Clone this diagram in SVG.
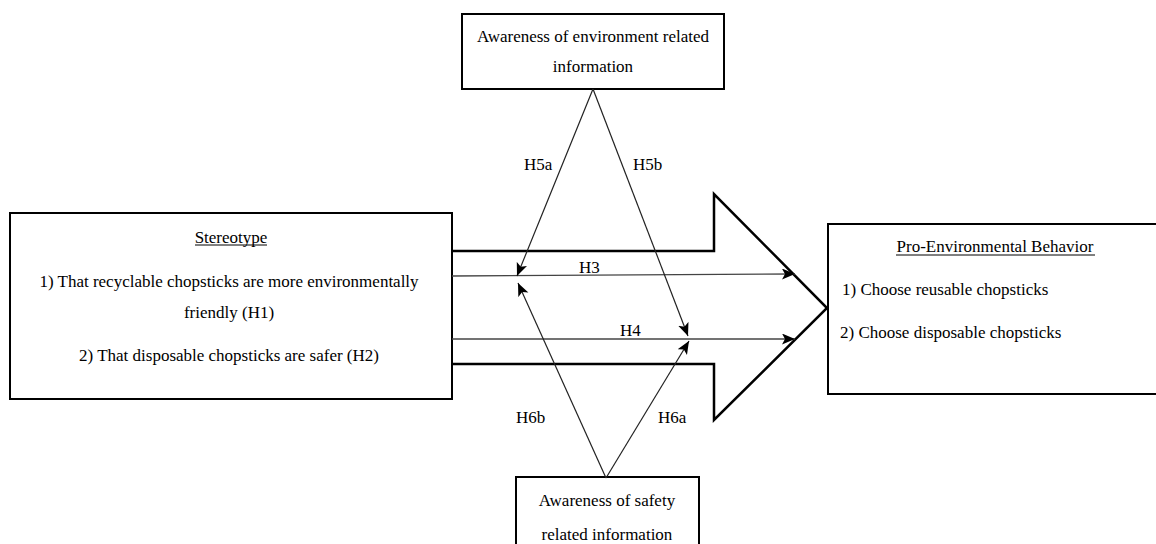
<svg xmlns="http://www.w3.org/2000/svg" width="1156" height="544" viewBox="0 0 1156 544">
<style>
.box{fill:#fff;stroke:#000;stroke-width:2}
.t{font-family:"Liberation Serif","Times New Roman",serif;font-size:17px;fill:#000}
.c{text-anchor:middle}
.big{fill:none;stroke:#000;stroke-width:2.5;stroke-linejoin:miter}
.ln{fill:none;stroke:#222;stroke-width:1.2}
.hl{fill:none;stroke:#444;stroke-width:1.3}
</style>
<defs>
<marker id="ah" markerUnits="userSpaceOnUse" markerWidth="14" markerHeight="12" refX="13" refY="5.5" orient="auto">
<path d="M0,0 L13,5.5 L0,11 L3,5.5 z" fill="#000"/>
</marker>
</defs>
<rect width="1156" height="544" fill="#fff"/>
<g id="bigarrow">
<polyline class="big" points="452,251 714,251 714,194 827,308 714,420 714,364 452,364"/>
</g>
<g id="stereotype">
<rect class="box" x="10" y="213" width="442" height="186"/>
<text class="t c" x="231" y="243">Stereotype</text>
<line x1="195" y1="245" x2="267" y2="245" stroke="#000" stroke-width="1"/>
<text class="t c" x="229" y="287">1) That recyclable chopsticks are more environmentally</text>
<text class="t c" x="229" y="318">friendly (H1)</text>
<text class="t c" x="229" y="361">2) That disposable chopsticks are safer (H2)</text>
</g>
<g id="behavior">
<rect class="box" x="828" y="224" width="340" height="170"/>
<text class="t c" x="995" y="252">Pro-Environmental Behavior</text>
<line x1="896" y1="255" x2="1095" y2="255" stroke="#000" stroke-width="1"/>
<text class="t" x="842" y="295">1) Choose reusable chopsticks</text>
<text class="t" x="840" y="338">2) Choose disposable chopsticks</text>
</g>
<g id="envinfo">
<rect class="box" x="462" y="14" width="262" height="75"/>
<text class="t c" x="593" y="42">Awareness of environment related</text>
<text class="t c" x="593" y="72">information</text>
</g>
<g id="safetyinfo">
<rect class="box" x="516" y="477" width="183" height="80"/>
<text class="t c" x="607" y="506">Awareness of safety</text>
<text class="t c" x="607" y="540">related information</text>
</g>
<g id="connectors">
<line class="hl" x1="452" y1="276" x2="795" y2="274" marker-end="url(#ah)"/>
<line class="hl" x1="452" y1="339" x2="795" y2="339" marker-end="url(#ah)"/>
<line class="ln" x1="593" y1="89" x2="517" y2="276" marker-end="url(#ah)"/>
<line class="ln" x1="593" y1="89" x2="688" y2="336" marker-end="url(#ah)"/>
<line class="ln" x1="606" y1="478" x2="518" y2="283" marker-end="url(#ah)"/>
<line class="ln" x1="606" y1="478" x2="689" y2="341" marker-end="url(#ah)"/>
</g>
<g id="labels">
<text class="t" x="524" y="170">H5a</text>
<text class="t" x="633" y="170">H5b</text>
<text class="t" x="579" y="273">H3</text>
<text class="t" x="620" y="336">H4</text>
<text class="t" x="516" y="423">H6b</text>
<text class="t" x="658" y="423">H6a</text>
</g>
</svg>
